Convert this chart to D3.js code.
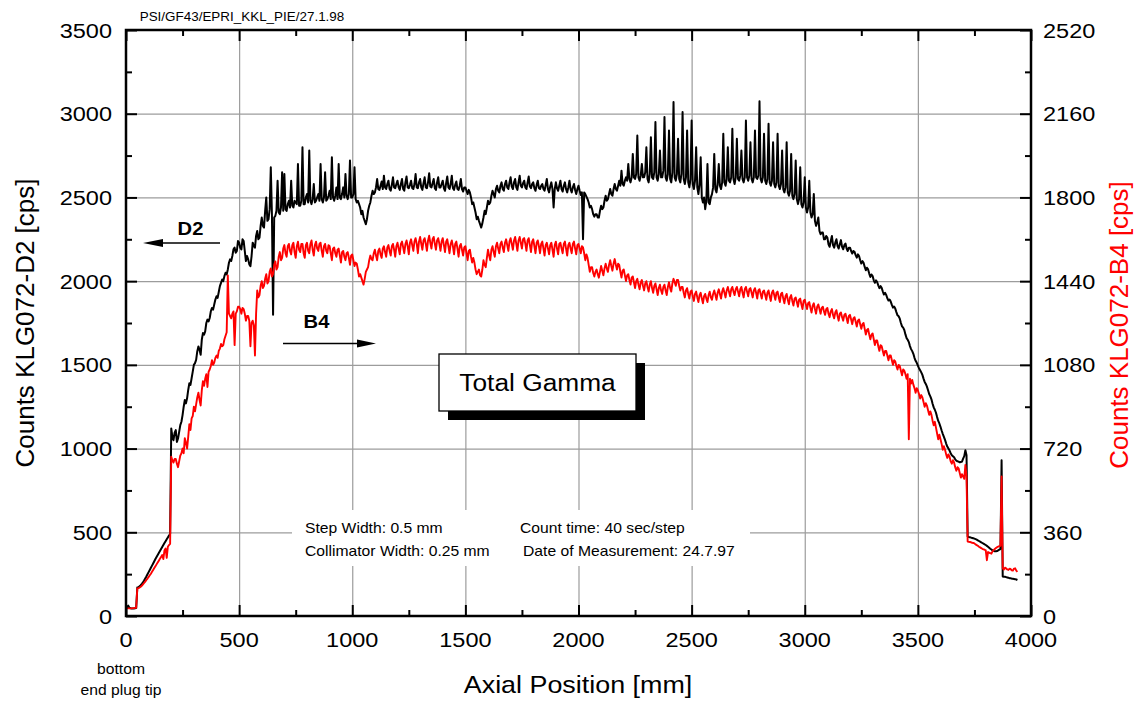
<!DOCTYPE html>
<html>
<head>
<meta charset="utf-8">
<script src="https://cdn.jsdelivr.net/npm/d3@7"></script>
<style>
  body { margin: 0; background: #fff; }
  svg { display: block; }
  text { font-family: "Liberation Sans", Arial, Helvetica, sans-serif; }
</style>
</head>
<body>
<svg id="chart" width="1141" height="702"></svg>
<script>
// Gamma scan along the rod: one count every 5 mm, starting at the end plug tip
const positionStart = 0;
const positionStep = 5;

// Detector D2, counts per second (left axis), one row per 100 mm
const d2Counts = [
  50, 48, 62, 50, 46, 45, 45, 45, 46, 47, 170, 172, 178, 184, 192, 201, 212, 224, 236, 249,
  262, 275, 288, 301, 314, 327, 340, 352, 364, 376, 388, 400, 412, 424, 436, 447, 458, 469, 480, 490,
  1120, 1070, 1050, 1095, 1110, 1040, 1060, 1100, 1140, 1160, 1200, 1250, 1290, 1270, 1300, 1350, 1390, 1380, 1420, 1460,
  1500, 1510, 1530, 1580, 1610, 1590, 1560, 1650, 1690, 1680, 1700, 1750, 1770, 1760, 1780, 1820, 1840, 1830, 1860, 1890,
  1910, 1900, 1935, 1970, 1990, 2010, 2000, 2030, 2050, 2040, 2070, 2110, 2130, 2120, 2150, 2190, 2200, 2170, 2180, 2240,
  2230, 2200, 2190, 2250, 2240, 2180, 2120, 2150, 2130, 2100, 2090, 2150, 2230, 2210, 2200, 2270, 2300, 2250, 2260, 2330,
  2380, 2330, 2320, 2420, 2500, 2360, 2370, 2430, 2680, 2400, 1800, 2380, 2390, 2420, 2600, 2410, 2400, 2440, 2650, 2420,
  2640, 2430, 2420, 2460, 2480, 2440, 2600, 2450, 2440, 2480, 2470, 2460, 2700, 2450, 2450, 2480, 2800, 2460, 2460, 2500,
  2520, 2470, 2780, 2480, 2460, 2490, 2580, 2470, 2480, 2500, 2520, 2480, 2700, 2490, 2470, 2500, 2650, 2480, 2490, 2510,
  2540, 2490, 2740, 2500, 2480, 2510, 2560, 2490, 2700, 2500, 2490, 2520, 2560, 2500, 2640, 2510, 2490, 2520, 2720, 2500,
  2500, 2520, 2680, 2490, 2470, 2480, 2460, 2440, 2400, 2420, 2380, 2360, 2340, 2370, 2420, 2450, 2470, 2510, 2540, 2520,
  2530, 2560, 2610, 2550, 2545, 2570, 2595, 2550, 2630, 2560, 2550, 2580, 2600, 2550, 2540, 2575, 2620, 2560, 2555, 2580,
  2600, 2560, 2545, 2580, 2610, 2550, 2540, 2590, 2625, 2560, 2555, 2575, 2600, 2555, 2550, 2580, 2640, 2560, 2555, 2590,
  2610, 2560, 2545, 2585, 2620, 2560, 2555, 2590, 2645, 2565, 2560, 2585, 2610, 2555, 2545, 2590, 2620, 2560, 2560, 2580,
  2600, 2555, 2540, 2585, 2625, 2560, 2550, 2580, 2630, 2555, 2545, 2575, 2595, 2550, 2545, 2570, 2610, 2550, 2535, 2560,
  2560, 2540, 2520, 2545, 2530, 2500, 2460, 2470, 2440, 2410, 2370, 2385, 2360, 2340, 2320, 2345, 2380, 2420, 2400, 2440,
  2480, 2460, 2470, 2510, 2540, 2520, 2500, 2550, 2570, 2540, 2530, 2570, 2590, 2550, 2540, 2580, 2600, 2560, 2550, 2590,
  2620, 2565, 2550, 2590, 2610, 2560, 2545, 2590, 2630, 2570, 2560, 2585, 2600, 2560, 2550, 2590, 2625, 2565, 2555, 2580,
  2590, 2555, 2540, 2575, 2600, 2555, 2550, 2570, 2580, 2550, 2540, 2575, 2610, 2550, 2530, 2565, 2590, 2550, 2440, 2550,
  2590, 2555, 2540, 2570, 2600, 2550, 2535, 2570, 2590, 2550, 2530, 2560, 2600, 2550, 2530, 2560, 2580, 2545, 2520, 2550,
  2570, 2540, 2515, 2530, 2250, 2530, 2520, 2505, 2490, 2470, 2440, 2450, 2430, 2400, 2385, 2400, 2400, 2380, 2380, 2420,
  2450, 2430, 2440, 2480, 2510, 2480, 2490, 2520, 2550, 2520, 2510, 2550, 2580, 2550, 2540, 2570, 2600, 2570, 2660, 2580,
  2570, 2600, 2620, 2600, 2700, 2610, 2590, 2620, 2760, 2620, 2610, 2640, 2870, 2620, 2600, 2630, 2700, 2620, 2620, 2650,
  2800, 2610, 2590, 2640, 2860, 2620, 2610, 2650, 2950, 2620, 2600, 2640, 2780, 2620, 2620, 2660, 2980, 2620, 2600, 2640,
  2900, 2610, 2590, 2650, 3070, 2620, 2600, 2640, 2850, 2610, 2590, 2640, 3010, 2610, 2580, 2620, 2900, 2590, 2560, 2610,
  2960, 2580, 2550, 2600, 2800, 2560, 2520, 2580, 2740, 2500, 2470, 2500, 2430, 2480, 2700, 2470, 2460, 2500, 2520, 2560,
  2760, 2550, 2530, 2580, 2700, 2570, 2550, 2590, 2880, 2590, 2570, 2610, 2800, 2600, 2590, 2620, 2910, 2610, 2580, 2620,
  2850, 2610, 2600, 2630, 2780, 2610, 2590, 2620, 2960, 2620, 2600, 2630, 2830, 2610, 2590, 2620, 2900, 2620, 2610, 2630,
  3075, 2610, 2590, 2620, 2880, 2600, 2580, 2610, 2940, 2590, 2570, 2600, 2830, 2580, 2560, 2590, 2880, 2570, 2550, 2580,
  2780, 2550, 2530, 2560, 2830, 2530, 2510, 2540, 2760, 2510, 2490, 2520, 2720, 2490, 2460, 2490, 2680, 2460, 2440, 2470,
  2620, 2440, 2410, 2440, 2600, 2410, 2380, 2400, 2520, 2360, 2330, 2350, 2380, 2300, 2280, 2290, 2290, 2250, 2250, 2270,
  2260, 2220, 2205, 2240, 2270, 2215, 2200, 2230, 2250, 2210, 2195, 2220, 2245, 2205, 2190, 2215, 2225, 2195, 2180, 2200,
  2200, 2180, 2165, 2180, 2175, 2155, 2140, 2160, 2150, 2125, 2105, 2120, 2110, 2085, 2065, 2080, 2070, 2045, 2025, 2040,
  2030, 2005, 1990, 2005, 1995, 1975, 1958, 1970, 1960, 1938, 1920, 1930, 1918, 1898, 1884, 1890, 1878, 1858, 1842, 1848,
  1836, 1815, 1796, 1790, 1776, 1750, 1730, 1722, 1708, 1682, 1660, 1650, 1636, 1612, 1594, 1582, 1566, 1542, 1524, 1512,
  1496, 1480, 1468, 1455, 1440, 1418, 1398, 1386, 1370, 1348, 1326, 1312, 1294, 1268, 1246, 1232, 1214, 1188, 1165, 1150,
  1130, 1108, 1088, 1070, 1052, 1030, 1012, 1000, 988, 972, 960, 954, 948, 936, 928, 924, 922, 918, 920, 922,
  940, 955, 990, 960, 475, 472, 470, 468, 466, 464, 462, 459, 456, 452, 448, 444, 440, 436, 432, 428,
  424, 419, 414, 408, 402, 397, 392, 389, 386, 386, 388, 392, 396, 400, 930, 236, 235, 234, 232, 230,
  228, 226, 225, 223, 222, 221, 220, 218, 215
];

// Detector B4, counts per second (right axis), one row per 100 mm
const b4Counts = [
  34, 34, 33, 33, 33, 33, 34, 34, 35, 35, 119, 120, 122, 126, 130, 136, 142, 148, 155, 161,
  168, 175, 182, 190, 198, 206, 214, 222, 230, 238, 246, 254, 262, 245, 282, 290, 250, 298, 305, 310,
  685, 670, 660, 675, 675, 655, 640, 665, 690, 700, 720, 700, 765, 745, 720, 770, 825, 800, 850, 860,
  900, 880, 910, 940, 960, 930, 905, 970, 1010, 990, 1020, 1040, 985, 1050, 1060, 1075, 1100, 1080, 1090, 1110,
  1120, 1110, 1140, 1150, 1170, 1160, 1165, 1190, 1205, 1220, 1465, 1300, 1290, 1280, 1300, 1310, 1165, 1300, 1310, 1330,
  1330, 1320, 1300, 1325, 1320, 1300, 1270, 1290, 1290, 1270, 1160, 1260, 1270, 1250, 1120, 1300, 1400, 1370, 1380, 1420,
  1440, 1410, 1420, 1450, 1470, 1430, 1440, 1480, 1495, 1460, 1470, 1510, 1525, 1490, 1500, 1545, 1565, 1530, 1540, 1580,
  1595, 1560, 1545, 1590, 1600, 1570, 1555, 1595, 1605, 1565, 1540, 1590, 1610, 1575, 1565, 1600, 1600, 1560, 1540, 1595,
  1605, 1570, 1560, 1600, 1615, 1575, 1550, 1595, 1610, 1580, 1570, 1600, 1605, 1570, 1545, 1590, 1600, 1570, 1560, 1595,
  1590, 1560, 1530, 1580, 1585, 1560, 1545, 1575, 1580, 1550, 1520, 1565, 1570, 1545, 1530, 1560, 1565, 1540, 1510, 1550,
  1555, 1530, 1505, 1520, 1515, 1490, 1460, 1470, 1455, 1440, 1425, 1450, 1480, 1490, 1500, 1530, 1550, 1535, 1530, 1560,
  1575, 1550, 1530, 1570, 1580, 1555, 1540, 1580, 1590, 1565, 1545, 1585, 1595, 1570, 1550, 1590, 1600, 1575, 1545, 1590,
  1605, 1580, 1555, 1600, 1610, 1585, 1560, 1600, 1615, 1590, 1555, 1605, 1620, 1595, 1570, 1610, 1625, 1600, 1560, 1610,
  1630, 1600, 1575, 1615, 1625, 1600, 1570, 1615, 1635, 1605, 1580, 1620, 1630, 1600, 1575, 1615, 1625, 1600, 1570, 1610,
  1625, 1595, 1565, 1610, 1620, 1590, 1560, 1600, 1615, 1590, 1555, 1600, 1610, 1580, 1545, 1590, 1600, 1575, 1550, 1585,
  1590, 1560, 1530, 1570, 1575, 1545, 1520, 1540, 1520, 1490, 1470, 1480, 1490, 1465, 1460, 1490, 1530, 1510, 1500, 1540,
  1575, 1550, 1530, 1575, 1590, 1565, 1545, 1590, 1605, 1580, 1560, 1600, 1610, 1585, 1565, 1605, 1620, 1595, 1570, 1610,
  1625, 1600, 1575, 1615, 1630, 1600, 1570, 1615, 1630, 1605, 1580, 1620, 1625, 1600, 1570, 1615, 1625, 1595, 1565, 1610,
  1620, 1590, 1560, 1605, 1615, 1590, 1560, 1600, 1610, 1580, 1550, 1595, 1605, 1580, 1555, 1595, 1605, 1575, 1545, 1595,
  1610, 1580, 1555, 1600, 1605, 1580, 1560, 1600, 1610, 1580, 1550, 1595, 1605, 1580, 1560, 1600, 1610, 1580, 1555, 1595,
  1600, 1580, 1560, 1590, 1585, 1560, 1530, 1555, 1540, 1510, 1480, 1500, 1500, 1475, 1460, 1480, 1490, 1470, 1455, 1480,
  1505, 1485, 1465, 1495, 1515, 1495, 1480, 1510, 1530, 1505, 1485, 1515, 1535, 1510, 1490, 1515, 1510, 1480, 1455, 1485,
  1490, 1465, 1440, 1465, 1470, 1445, 1425, 1455, 1460, 1435, 1410, 1440, 1450, 1425, 1405, 1435, 1445, 1420, 1400, 1430,
  1440, 1415, 1395, 1425, 1440, 1410, 1390, 1420, 1430, 1405, 1380, 1410, 1425, 1400, 1385, 1415, 1425, 1400, 1380, 1415,
  1435, 1410, 1395, 1430, 1450, 1435, 1420, 1445, 1445, 1420, 1400, 1415, 1415, 1390, 1370, 1400, 1410, 1385, 1365, 1395,
  1400, 1375, 1355, 1385, 1395, 1370, 1350, 1380, 1390, 1365, 1345, 1375, 1385, 1365, 1350, 1380, 1395, 1370, 1360, 1385,
  1400, 1380, 1360, 1390, 1405, 1385, 1365, 1395, 1410, 1390, 1370, 1400, 1415, 1395, 1375, 1405, 1415, 1395, 1380, 1405,
  1415, 1395, 1375, 1405, 1415, 1390, 1370, 1405, 1415, 1395, 1375, 1405, 1410, 1390, 1370, 1400, 1410, 1390, 1365, 1400,
  1405, 1385, 1365, 1395, 1400, 1380, 1360, 1390, 1400, 1375, 1355, 1390, 1400, 1380, 1360, 1390, 1395, 1370, 1350, 1385,
  1390, 1365, 1345, 1375, 1385, 1360, 1340, 1370, 1380, 1355, 1335, 1365, 1370, 1350, 1330, 1360, 1365, 1340, 1320, 1355,
  1360, 1340, 1320, 1345, 1350, 1325, 1305, 1335, 1345, 1320, 1300, 1330, 1340, 1320, 1300, 1325, 1330, 1310, 1295, 1320,
  1325, 1300, 1285, 1310, 1320, 1295, 1280, 1305, 1315, 1290, 1270, 1300, 1305, 1285, 1270, 1295, 1300, 1280, 1260, 1290,
  1295, 1275, 1255, 1280, 1285, 1265, 1245, 1270, 1275, 1255, 1235, 1255, 1260, 1235, 1210, 1230, 1235, 1210, 1190, 1210,
  1215, 1190, 1165, 1185, 1185, 1160, 1140, 1165, 1160, 1140, 1120, 1140, 1140, 1120, 1100, 1120, 1120, 1100, 1080, 1100,
  1095, 1075, 1060, 1080, 1075, 1055, 1035, 1060, 1055, 1040, 1020, 1040, 760, 1020, 1000, 1015, 995, 980, 960, 980,
  970, 955, 935, 950, 940, 920, 900, 915, 905, 885, 865, 880, 865, 840, 820, 835, 810, 785, 760, 780,
  760, 740, 715, 730, 715, 695, 680, 695, 685, 665, 655, 670, 660, 640, 625, 640, 635, 615, 595, 610,
  600, 590, 650, 600, 320, 319, 318, 317, 315, 314, 312, 308, 305, 302, 298, 295, 292, 289, 287, 285,
  282, 240, 275, 272, 270, 268, 278, 283, 288, 292, 296, 298, 300, 302, 600, 205, 200, 208, 205, 200,
  198, 203, 202, 196, 195, 204, 205, 195, 190
];

// Axis ticks
const xMajorTicks = [0, 500, 1000, 1500, 2000, 2500, 3000, 3500, 4000];
const xMinorTicks = [250, 750, 1250, 1750, 2250, 2750, 3250, 3750];
const leftMajorTicks = [0, 500, 1000, 1500, 2000, 2500, 3000, 3500];
const leftMinorTicks = [250, 750, 1250, 1750, 2250, 2750, 3250];
const rightMajorTicks = [0, 360, 720, 1080, 1440, 1800, 2160, 2520];
const rightMinorTicks = [180, 540, 900, 1260, 1620, 1980, 2340];

// Texts
const headerText = "PSI/GF43/EPRI_KKL_PIE/27.1.98";
const leftTitle = "Counts KLG072-D2 [cps]";
const rightTitle = "Counts KLG072-B4 [cps]";
const xTitle = "Axial Position [mm]";
const plugNote = ["bottom", "end plug tip"];
const measurementNotes = [
  ["Step Width: 0.5 mm", "Collimator Width: 0.25 mm"],
  ["Count time: 40 sec/step", "Date of Measurement: 24.7.97"]
];
const boxLabel = "Total Gamma";

const W = 1141, H = 702;
const plot = { left: 126, right: 1031, top: 30, bottom: 616 };
const SX = 1.12;            // horizontal glyph stretch of the plotting package

const x = d3.scaleLinear().domain([0, 4000]).range([plot.left, plot.right]);
const yL = d3.scaleLinear().domain([0, 3500]).range([plot.bottom, plot.top]);
const yR = d3.scaleLinear().domain([0, 2520]).range([plot.bottom, plot.top]);

const svg = d3.select("#chart");
svg.append("rect").attr("width", W).attr("height", H).attr("fill", "#fff");

function text(g, str, tx, ty, opt = {}) {
  const { size = 14, anchor = "start", weight = "normal", fill = "#000", rotate = 0, sx = SX } = opt;
  return g.append("text")
    .attr("transform", `translate(${tx},${ty}) scale(${sx},1)` + (rotate ? ` rotate(${rotate})` : ""))
    .attr("text-anchor", anchor)
    .attr("font-size", size)
    .attr("font-weight", weight)
    .attr("fill", fill)
    .text(str);
}

// Grid lines
const plotH = plot.bottom - plot.top, plotW = plot.right - plot.left;
const gridStyle = g => {
  g.select(".domain").remove();
  g.selectAll("line").attr("stroke", "#9c9c9c").attr("stroke-width", 1.2);
  g.selectAll("text").remove();
};
svg.append("g").attr("transform", `translate(0,${plot.bottom})`)
  .call(d3.axisBottom(x).tickValues(xMajorTicks.slice(1, -1)).tickSize(-plotH).tickFormat(""))
  .call(gridStyle);
svg.append("g").attr("transform", `translate(${plot.left},0)`)
  .call(d3.axisLeft(yL).tickValues(leftMajorTicks.slice(1, -1)).tickSize(-plotW).tickFormat(""))
  .call(gridStyle);

// White backing behind the measurement notes
svg.append("rect").attr("x", 292).attr("y", 510).attr("width", 458).attr("height", 56).attr("fill", "#fff");

// "Total Gamma" box with drop shadow
svg.append("rect").attr("x", 448).attr("y", 363).attr("width", 197).attr("height", 57).attr("fill", "#000");
svg.append("rect").attr("x", 439).attr("y", 354).attr("width", 197).attr("height", 57)
  .attr("fill", "#fff").attr("stroke", "#000").attr("stroke-width", 1.3);
text(svg, boxLabel, 537.5, 391, { size: 23.5, anchor: "middle" });

// Traces
const pos = i => positionStart + i * positionStep;
const lineD2 = d3.line().x((d, i) => x(pos(i))).y(d => yL(d));
const lineB4 = d3.line().x((d, i) => x(pos(i))).y(d => yR(d));
svg.append("path").datum(d2Counts).attr("d", lineD2)
  .attr("fill", "none").attr("stroke", "#000").attr("stroke-width", 2).attr("stroke-linejoin", "round");
svg.append("path").datum(b4Counts).attr("d", lineB4)
  .attr("fill", "none").attr("stroke", "#ff0000").attr("stroke-width", 1.9).attr("stroke-linejoin", "round");

// Inward ticks on all four sides
const tickStyle = g => {
  g.select(".domain").remove();
  g.selectAll("line").attr("stroke", "#000").attr("stroke-width", 2);
  g.selectAll("text").remove();
};
const addTicks = (axisFn, scale, majors, minors, transform) => {
  svg.append("g").attr("transform", transform)
    .call(axisFn(scale).tickValues(majors).tickSize(-11).tickFormat("")).call(tickStyle);
  svg.append("g").attr("transform", transform)
    .call(axisFn(scale).tickValues(minors).tickSize(-6).tickFormat("")).call(tickStyle);
};
addTicks(d3.axisBottom, x, xMajorTicks, xMinorTicks, `translate(0,${plot.bottom})`);
addTicks(d3.axisTop, x, xMajorTicks, xMinorTicks, `translate(0,${plot.top})`);
addTicks(d3.axisLeft, yL, leftMajorTicks, leftMinorTicks, `translate(${plot.left},0)`);
addTicks(d3.axisRight, yR, rightMajorTicks, rightMinorTicks, `translate(${plot.right},0)`);

// Frame
svg.append("rect").attr("x", plot.left).attr("y", plot.top).attr("width", plotW).attr("height", plotH)
  .attr("fill", "none").attr("stroke", "#000").attr("stroke-width", 2.5);

// Tick labels
const labels = svg.append("g");
xMajorTicks.forEach(v => text(labels, String(v), x(v), 647, { size: 21, anchor: "middle" }));
leftMajorTicks.forEach(v => text(labels, String(v), 112, yL(v) + 7.5, { size: 21, anchor: "end" }));
rightMajorTicks.forEach(v => text(labels, String(v), 1043, yR(v) + 7.5, { size: 21, anchor: "start" }));

// Titles
text(svg, headerText, 242, 21, { size: 12, anchor: "middle" });
text(svg, xTitle, 578, 693, { size: 24, anchor: "middle" });
text(svg, leftTitle, 34, 323, { size: 26, anchor: "middle", rotate: -90, sx: 1 });
text(svg, rightTitle, 1128, 325, { size: 26, anchor: "middle", rotate: -90, sx: 1, fill: "#ff0000" });
text(svg, plugNote[0], 121, 674, { size: 14, anchor: "middle" });
text(svg, plugNote[1], 121, 695, { size: 14, anchor: "middle" });

// Measurement notes
text(svg, measurementNotes[0][0], 305, 533, { size: 14 });
text(svg, measurementNotes[0][1], 305, 556, { size: 14 });
text(svg, measurementNotes[1][0], 520, 533, { size: 14 });
text(svg, measurementNotes[1][1], 523, 556, { size: 14 });

// Detector markers with direction arrows
text(svg, "D2", 190.5, 235, { size: 18, anchor: "middle", weight: "bold" });
svg.append("line").attr("x1", 160).attr("y1", 243).attr("x2", 220).attr("y2", 243).attr("stroke", "#000").attr("stroke-width", 1.5);
svg.append("path").attr("d", "M143,243 L163,239 L163,247 Z").attr("fill", "#000");
text(svg, "B4", 316.5, 328, { size: 18, anchor: "middle", weight: "bold" });
svg.append("line").attr("x1", 283).attr("y1", 343.5).attr("x2", 360).attr("y2", 343.5).attr("stroke", "#000").attr("stroke-width", 1.5);
svg.append("path").attr("d", "M376,343.5 L357,339.5 L357,347.5 Z").attr("fill", "#000");
</script>
</body>
</html>
